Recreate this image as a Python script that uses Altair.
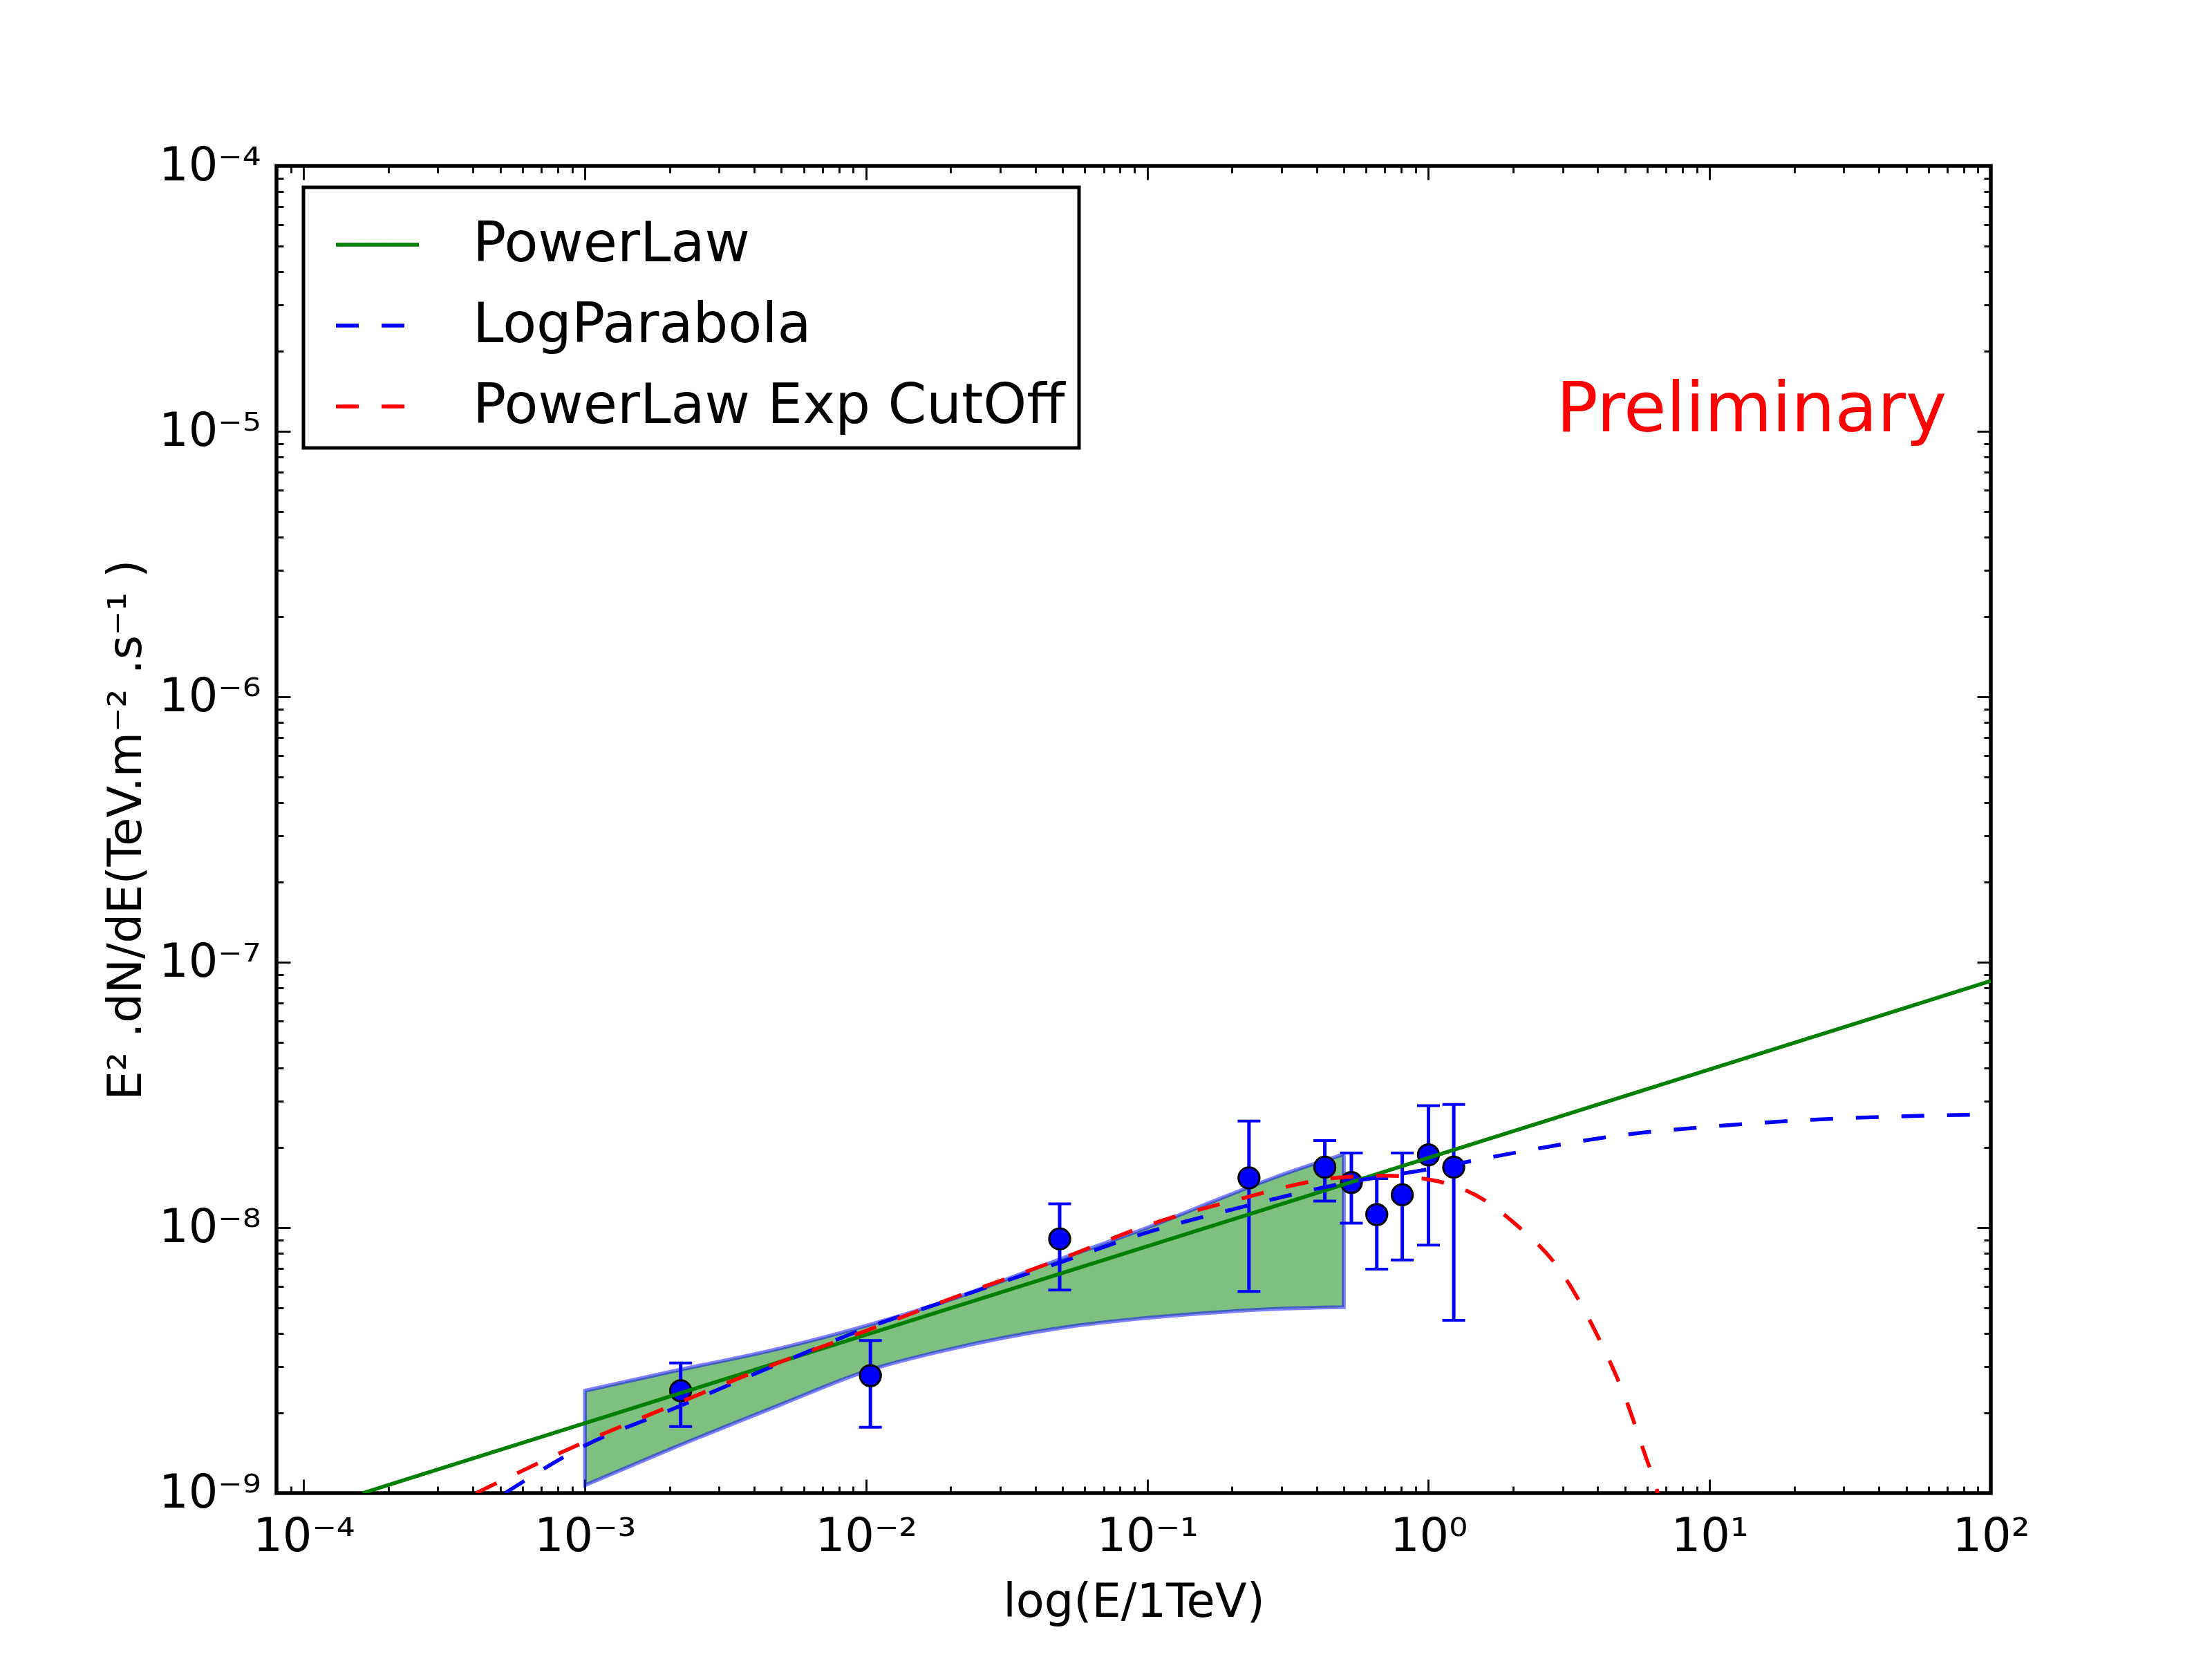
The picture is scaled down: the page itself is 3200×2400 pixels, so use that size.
import altair as alt
import pandas as pd

# ---------------- data ----------------
models = ["PowerLaw", "LogParabola", "PowerLaw Exp CutOff"]
model_colors = ["#008000", "#0000ff", "#ff0000"]
model_dashes = [[1, 0], [33, 33], [33, 33]]

# PowerLaw (straight line in log-log)
pl_x = [1.62e-4, 100.0]
pl_y = [1.0e-9, 8.5e-8]

# LogParabola
lp_x = [5.2e-4, 1e-3, 2e-3, 5e-3, 1e-2, 2e-2, 5e-2, 1e-1, 2e-1, 5e-1, 1.0, 2.0, 5.0, 10.0, 20.0, 50.0, 100.0]
lp_y = [1.0e-9, 1.51e-9, 2.05e-9, 3.1e-9, 4.18e-9, 5.36e-9, 7.45e-9, 9.6e-9, 1.17e-8, 1.47e-8, 1.66e-8,
        1.91e-8, 2.24e-8, 2.4e-8, 2.53e-8, 2.63e-8, 2.67e-8]

# PowerLaw Exp CutOff
ec_x = [4.1e-4, 1e-3, 2e-3, 5e-3, 1e-2, 2e-2, 5e-2, 1e-1, 2e-1, 5e-1, 0.7, 1.0, 1.6, 2.0, 3.0, 4.0, 5.0, 6.0, 6.4, 6.6]
ec_y = [1.0e-9, 1.56e-9, 2.12e-9, 3.13e-9, 4.09e-9, 5.4e-9, 7.67e-9, 1.02e-8, 1.26e-8, 1.55e-8, 1.57e-8,
        1.52e-8, 1.26e-8, 1.05e-8, 6.7e-9, 3.9e-9, 2.3e-9, 1.32e-9, 1.09e-9, 9.6e-10]

# butterfly band
band_x = [1e-3, 2e-3, 5e-3, 1e-2, 2e-2, 5e-2, 1e-1, 2e-1, 3e-1, 5e-1]
band_hi = [2.43e-9, 2.86e-9, 3.52e-9, 4.27e-9, 5.36e-9, 7.67e-9, 1.0e-8, 1.34e-8, 1.58e-8, 1.89e-8]
band_lo = [1.07e-9, 1.46e-9, 2.16e-9, 2.88e-9, 3.49e-9, 4.2e-9, 4.57e-9, 4.84e-9, 4.95e-9, 5.02e-9]

# data points with error bars
pts_x = [2.19e-3, 1.036e-2, 4.88e-2, 0.230, 0.428, 0.532, 0.655, 0.807, 1.0, 1.23]
pts_y = [2.43e-9, 2.77e-9, 9.07e-9, 1.54e-8, 1.69e-8, 1.48e-8, 1.12e-8, 1.33e-8, 1.88e-8, 1.69e-8]
err_lo = [1.78e-9, 1.77e-9, 5.82e-9, 5.75e-9, 1.26e-8, 1.04e-8, 6.98e-9, 7.55e-9, 8.6e-9, 4.48e-9]
err_hi = [3.09e-9, 3.76e-9, 1.23e-8, 2.52e-8, 2.13e-8, 1.91e-8, 1.53e-8, 1.91e-8, 2.88e-8, 2.91e-8]

# axes
x_domain = [8e-5, 100.0]
y_domain = [1e-9, 1e-4]
x_major = [1e-4, 1e-3, 1e-2, 1e-1, 1.0, 10.0, 100.0]
x_labels = ["10⁻⁴", "10⁻³", "10⁻²", "10⁻¹", "10⁰", "10¹", "10²"]
y_major = [1e-9, 1e-8, 1e-7, 1e-6, 1e-5, 1e-4]
y_labels = ["10⁻⁹", "10⁻⁸", "10⁻⁷", "10⁻⁶", "10⁻⁵", "10⁻⁴"]
x_minor = [m * 10.0 ** k for k in range(-5, 2) for m in range(2, 10) if 8e-5 <= m * 10.0 ** k <= 100]
y_minor = [m * 10.0 ** k for k in range(-9, -4) for m in range(2, 10)]

x_title = "log(E/1TeV)"
y_title = "E² .dN/dE(TeV.m⁻² .s⁻¹ )"
note_text = ["Preliminary"]
note_x = [2.85]
note_y = [1e-5]

# ---------------- chart ----------------
FONT = "DejaVu Sans"
W, H = 2480, 1920
xs = alt.Scale(type="log", domain=x_domain, nice=False)
ys = alt.Scale(type="log", domain=y_domain, nice=False)


def label_expr(vals, labs):
    expr = "'" + labs[-1] + "'"
    for v, l in reversed(list(zip(vals[:-1], labs[:-1]))):
        expr = f"datum.value < {v * 3.1623:g} ? '{l}' : ({expr})"
    return expr


line_df = pd.concat([
    pd.DataFrame({"x": pl_x, "y": pl_y, "model": models[0]}),
    pd.DataFrame({"x": lp_x, "y": lp_y, "model": models[1]}),
    pd.DataFrame({"x": ec_x, "y": ec_y, "model": models[2]}),
])
band_df = pd.DataFrame({"x": band_x, "hi": band_hi, "lo": band_lo})
pts_df = pd.DataFrame({"x": pts_x, "y": pts_y, "lo": err_lo, "hi": err_hi})
note_df = pd.DataFrame({"x": note_x, "y": note_y, "t": note_text})

legend = alt.Legend(title=None, orient="none", legendX=39, legendY=31, symbolType="stroke",
                    symbolSize=14400, symbolStrokeWidth=5.5, symbolOffset=24, labelFontSize=80,
                    labelFont=FONT, labelColor="black", labelOffset=75, rowPadding=14, padding=20,
                    strokeColor="black", fillColor="white", labelLimit=2000)
color_enc = alt.Color("model:N", scale=alt.Scale(domain=models, range=model_colors), legend=legend)
dash_enc = alt.StrokeDash("model:N", scale=alt.Scale(domain=models, range=model_dashes), legend=legend)

band = alt.Chart(band_df).mark_area(fill="#008000", fillOpacity=0.5, stroke="#0000ff", strokeOpacity=0.5,
                                    strokeWidth=5.5, interpolate="monotone", clip=True).encode(
    x=alt.X("x:Q", scale=xs, axis=None),
    y=alt.Y("hi:Q", scale=ys, axis=None),
    y2="lo:Q",
)

bars = alt.Chart(pts_df).mark_rule(color="#0000ff", strokeWidth=5).encode(
    x=alt.X("x:Q", scale=xs, axis=None),
    y=alt.Y("lo:Q", scale=ys, axis=None),
    y2="hi:Q",
)
cap_lo = alt.Chart(pts_df).mark_tick(color="#0000ff", orient="horizontal", size=33, thickness=4, opacity=1).encode(
    x=alt.X("x:Q", scale=xs, axis=None),
    y=alt.Y("lo:Q", scale=ys, axis=None),
)
cap_hi = alt.Chart(pts_df).mark_tick(color="#0000ff", orient="horizontal", size=33, thickness=4, opacity=1).encode(
    x=alt.X("x:Q", scale=xs, axis=None),
    y=alt.Y("hi:Q", scale=ys, axis=None),
)
points = alt.Chart(pts_df).mark_circle(fill="#0000ff", stroke="black", strokeWidth=3, size=920,
                                       opacity=1).encode(
    x=alt.X("x:Q", scale=xs, axis=None),
    y=alt.Y("y:Q", scale=ys, axis=None),
)


def model_line(name):
    return alt.Chart(line_df).transform_filter(alt.datum.model == name).mark_line(
        strokeWidth=5.5, interpolate="monotone", clip=True).encode(
        x=alt.X("x:Q", scale=xs, axis=None),
        y=alt.Y("y:Q", scale=ys, axis=None),
        color=color_enc,
        strokeDash=dash_enc,
        order=alt.Order("x:Q"),
    )


note = alt.Chart(note_df).mark_text(align="left", baseline="alphabetic", fontSize=100, font=FONT,
                                    color="#ff0000").encode(
    x=alt.X("x:Q", scale=xs, axis=None),
    y=alt.Y("y:Q", scale=ys, axis=None),
    text="t:N",
)

common_axis = dict(domain=False, grid=False, tickColor="black", tickWidth=2.8, labelFlush=False,
                   labelOverlap=False, labelFont=FONT, labelFontSize=67, labelColor="black")


def x_axis(vals, orient, size, labels, title=None):
    extra = {}
    if labels:
        extra = dict(labelExpr=label_expr(x_major, x_labels), labelPadding=30)
    if title:
        extra.update(title=title, titleFont=FONT, titleFontSize=67, titleFontWeight="normal",
                     titleColor="black", titleX=W / 2, titleY=198, titleAlign="center",
                     titleBaseline="alphabetic")
    else:
        extra.update(title=None)
    df = pd.DataFrame({"v": vals})
    return alt.Chart(df).mark_tick(opacity=0).encode(
        x=alt.X("v:Q", scale=xs, axis=alt.Axis(orient=orient, values=vals, tickSize=size, offset=-size,
                                                 labels=labels, **common_axis, **extra)))


def y_axis(vals, orient, size, labels, title=None):
    extra = {}
    if labels:
        extra = dict(labelExpr=label_expr(y_major, y_labels), labelPadding=23, labelAlign="right",
                     labelBaseline="middle")
    if title:
        extra.update(title=title, titleFont=FONT, titleFontSize=67, titleFontWeight="normal",
                     titleColor="black", titleX=-217, titleY=H / 2, titleAlign="center",
                     titleAngle=270, titleBaseline="alphabetic")
    else:
        extra.update(title=None)
    df = pd.DataFrame({"v": vals})
    return alt.Chart(df).mark_tick(opacity=0).encode(
        y=alt.Y("v:Q", scale=ys, axis=alt.Axis(orient=orient, values=vals, tickSize=size, offset=-size,
                                                 labels=labels, **common_axis, **extra)))


axes = [
    x_axis(x_major, "bottom", 20, True, x_title),
    x_axis(x_minor, "bottom", 10, False),
    x_axis(x_major, "top", 20, False),
    x_axis(x_minor, "top", 10, False),
    y_axis(y_major, "left", 20, True, y_title),
    y_axis(y_minor, "left", 10, False),
    y_axis(y_major, "right", 20, False),
    y_axis(y_minor, "right", 10, False),
]

chart = alt.layer(
    band, bars, cap_lo, cap_hi, points,
    model_line(models[0]), model_line(models[1]), model_line(models[2]),
    note, *axes,
).resolve_axis(x="independent", y="independent").properties(
    width=W, height=H,
    padding={"left": 392, "top": 232, "right": 312, "bottom": 232},
    autosize=alt.AutoSizeParams(type="none"),
    background="white",
).configure_view(stroke="black", strokeWidth=5.5).configure_legend(strokeWidth=5)

chart.save("out.html", embed_options={"renderer": "svg", "actions": False})
